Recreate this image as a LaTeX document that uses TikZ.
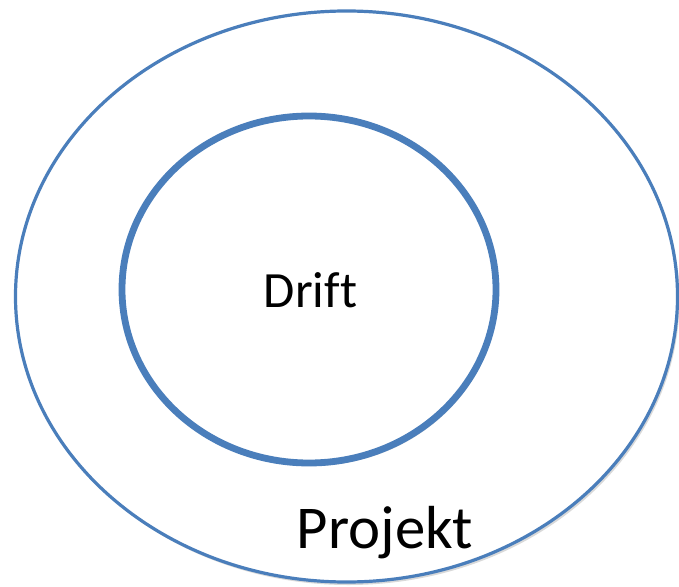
\documentclass[tikz,border=0pt]{standalone}
\usepackage{fontspec}
\setmainfont[Ligatures=NoCommon]{Carlito}
\usetikzlibrary{shapes.geometric, shadows}
\definecolor{ringblue}{RGB}{74, 126, 187}

\begin{document}
\begin{tikzpicture}[x=1bp, y=-1bp,
    ring/.style={ellipse, draw=ringblue, fill=white, inner sep=0pt,
                 drop shadow={shadow xshift=2bp, shadow yshift=-3bp, opacity=0.25, fill=black!60}},
    label/.style={inner sep=0pt, text=black}]

    % Frame
    \useasboundingbox (0, 0) rectangle (679, 587);

    % Outer ring
    \node[ring, line width=3.2bp, minimum width=662bp, minimum height=571bp] (projekt) at (346.5, 296.5) {};

    % Inner ring
    \node[ring, line width=6.8bp, minimum width=374bp, minimum height=347bp] (drift) at (309, 289.5) {};

    % Labels
    \node[label, font=\fontsize{51}{60}\selectfont, anchor=base] (drifttext) at (310.5, 307) {Drift};
    \node[label, font=\fontsize{61}{72}\selectfont, anchor=base] (projekttext) at (385, 548) {Projekt};
\end{tikzpicture}
\end{document}
